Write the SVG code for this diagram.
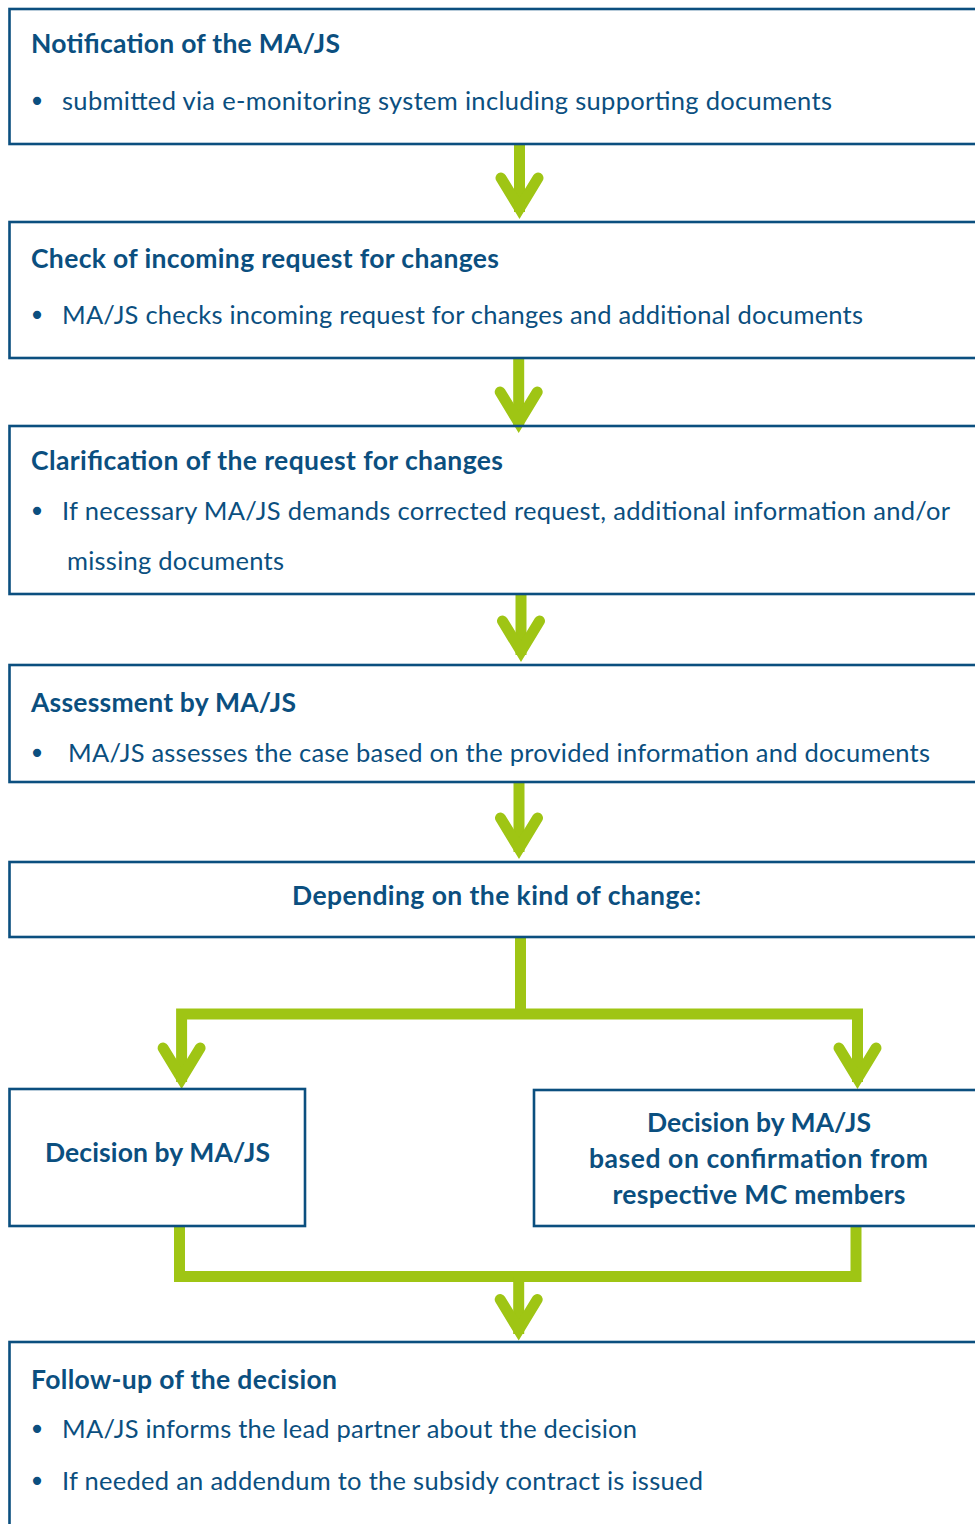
<svg xmlns="http://www.w3.org/2000/svg" width="975" height="1524" viewBox="0 0 975 1524">
  <style>
    .box { fill: none; stroke: #0B4F7F; stroke-width: 2.6; }
    .conn { fill: none; stroke: #9FC514; stroke-width: 11; stroke-linecap: butt; stroke-linejoin: miter; }
    .head { fill: none; stroke: #9FC514; stroke-width: 11; stroke-linecap: round; stroke-linejoin: miter; stroke-miterlimit: 6; }
    .t { font-family: Lato, "Liberation Sans", sans-serif; font-size: 25.5px; fill: #0B4F7F; }
    .b { font-weight: bold; font-size: 26.5px; }
    .bul { font-family: "DejaVu Sans", sans-serif; font-size: 28px; fill: #0B4F7F; text-anchor: middle; }
  </style>
  <defs>
    <path id="ah" class="head" d="M -18.5 -41 L 0 -10.6 L 18.5 -41"/>
  </defs>
  <rect x="0" y="0" width="975" height="1524" fill="#ffffff"/>

  <g id="connectors">
    <path class="conn" d="M 519.5 144 V 212"/>
    <use href="#ah" x="519.5" y="219"/>
    <path class="conn" d="M 518.7 358 V 426"/>
    <use href="#ah" x="518.7" y="433"/>
    <path class="conn" d="M 521 594 V 655"/>
    <use href="#ah" x="521" y="662"/>
    <path class="conn" d="M 519 782 V 852"/>
    <use href="#ah" x="519" y="859"/>
    <path class="conn" d="M 520.5 937 V 1014"/>
    <path class="conn" d="M 181.6 1082 V 1014 H 857.5 V 1082"/>
    <use href="#ah" x="181.6" y="1089"/>
    <use href="#ah" x="857.5" y="1089"/>
    <path class="conn" d="M 179.5 1226 V 1276.5 H 856 V 1226"/>
    <path class="conn" d="M 518.7 1276.5 V 1334"/>
    <use href="#ah" x="518.7" y="1340.5"/>
  </g>

  <g id="n1">
    <rect class="box" x="9.5" y="9" width="990" height="135"/>
    <text class="t b" x="31" y="53" textLength="309">Notification of the MA/JS</text>
    <text class="bul" x="37" y="111">•</text>
    <text class="t" x="62" y="110" textLength="770">submitted via e-monitoring system including supporting documents</text>
  </g>

  <g id="n2">
    <rect class="box" x="9.5" y="222" width="990" height="136"/>
    <text class="t b" x="31" y="268" textLength="468">Check of incoming request for changes</text>
    <text class="bul" x="37" y="325">•</text>
    <text class="t" x="62" y="324" textLength="801">MA/JS checks incoming request for changes and additional documents</text>
  </g>

  <g id="n3">
    <rect class="box" x="9.5" y="426" width="990" height="168"/>
    <text class="t b" x="31" y="470" textLength="472">Clarification of the request for changes</text>
    <text class="bul" x="37" y="521">•</text>
    <text class="t" x="62" y="520" textLength="888">If necessary MA/JS demands corrected request, additional information and/or</text>
    <text class="t" x="67" y="570" textLength="217">missing documents</text>
  </g>

  <g id="n4">
    <rect class="box" x="9.5" y="665" width="990" height="117"/>
    <text class="t b" x="31" y="711.5" textLength="265">Assessment by MA/JS</text>
    <text class="bul" x="37" y="762.5">•</text>
    <text class="t" x="68" y="761.5" textLength="862">MA/JS assesses the case based on the provided information and documents</text>
  </g>

  <g id="n5">
    <rect class="box" x="9.5" y="862" width="990" height="75"/>
    <text class="t b" x="292" y="904.5" textLength="409">Depending on the kind of change:</text>
  </g>

  <g id="n6">
    <rect class="box" x="9.5" y="1089" width="295.5" height="137"/>
    <text class="t b" x="45" y="1162" textLength="225">Decision by MA/JS</text>
  </g>

  <g id="n7">
    <rect class="box" x="534" y="1090" width="460" height="136"/>
    <text class="t b" x="647" y="1132" textLength="224">Decision by MA/JS</text>
    <text class="t b" x="589" y="1168" textLength="339">based on confirmation from</text>
    <text class="t b" x="612.5" y="1203.5" textLength="293">respective MC members</text>
  </g>

  <g id="n8">
    <rect class="box" x="9.5" y="1342" width="990" height="300"/>
    <text class="t b" x="31" y="1388.5" textLength="306">Follow-up of the decision</text>
    <text class="bul" x="37" y="1439">•</text>
    <text class="t" x="62" y="1438" textLength="575">MA/JS informs the lead partner about the decision</text>
    <text class="bul" x="37" y="1491">•</text>
    <text class="t" x="62" y="1490" textLength="641">If needed an addendum to the subsidy contract is issued</text>
  </g>
</svg>
